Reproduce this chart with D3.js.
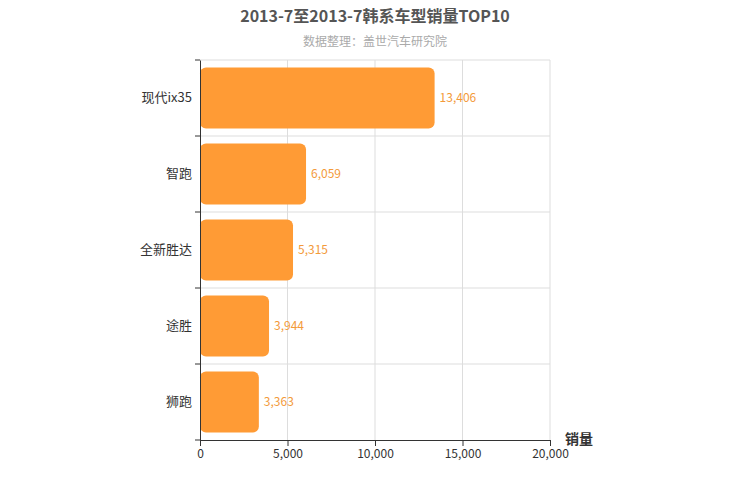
<!DOCTYPE html><html><head><meta charset="utf-8"><script src="https://cdn.jsdelivr.net/npm/d3@7"></script>
<style>body{margin:0;background:#fff}text{font-family:"Noto Sans CJK SC","Liberation Sans",sans-serif}</style></head><body>
<svg id="c" width="750" height="500"></svg>
<script>
const categories=["现代ix35","智跑","全新胜达","途胜","狮跑"];
const values=[13406,6059,5315,3944,3363];
const xTicks=[0,5000,10000,15000,20000];
const svg=d3.select("#c");
const L=200,R=550,T=60,B=440;
const x=d3.scaleLinear().domain([0,20000]).range([L,R]);
const y=d3.scaleBand().domain(categories).range([T,B]);
// grid
svg.append("g").selectAll("line").data(xTicks.slice(1)).join("line")
 .attr("x1",d=>x(d)).attr("x2",d=>x(d)).attr("y1",T).attr("y2",B).attr("stroke","#ddd");
const bounds=d3.range(categories.length+1).map(i=>T+i*y.step());
svg.append("g").selectAll("line").data(bounds.slice(0,-1)).join("line")
 .attr("x1",L).attr("x2",R).attr("y1",d=>d).attr("y2",d=>d).attr("stroke","#ddd");
// bars
svg.append("g").selectAll("rect").data(values).join("rect")
 .attr("x",x(0)).attr("y",(d,i)=>y(categories[i])+y.step()*0.1).attr("height",y.step()*0.8)
 .attr("width",d=>x(d)-x(0)).attr("rx",6).attr("fill","#ff9b35");
svg.append("g").selectAll("text").data(values).join("text")
 .attr("x",d=>x(d)+5).attr("y",(d,i)=>y(categories[i])+y.step()/2).attr("dy","0.35em")
 .attr("fill","#f39a3a").attr("font-size",12).text(d=>d3.format(",")(d));
// axes
const xa=svg.append("g").attr("transform",`translate(0,${B})`).call(d3.axisBottom(x).tickValues(xTicks).tickFormat(d3.format(",")).tickSizeOuter(0));
const ya=svg.append("g").attr("transform",`translate(${L},0)`).call(d3.axisLeft(y).tickSize(0).tickPadding(8));
[xa,ya].forEach(a=>{a.select(".domain").attr("stroke","#333");a.selectAll("text").attr("fill","#333").attr("font-size",12).style("font-family",'"Noto Sans CJK SC",sans-serif');});
ya.selectAll("text").attr("font-size",13);
xa.selectAll("line").attr("stroke","#333");
svg.append("g").selectAll("line").data(bounds).join("line").attr("x1",L-5).attr("x2",L).attr("y1",d=>d).attr("y2",d=>d).attr("stroke","#333");
svg.append("text").attr("x",565).attr("y",444).attr("font-size",14).attr("font-weight","bold").attr("fill","#333").text("销量");
svg.append("text").attr("x",375).attr("y",22).attr("text-anchor","middle").attr("font-size",16).attr("font-weight","bold").attr("fill","#555").text("2013-7至2013-7韩系车型销量TOP10");
svg.append("text").attr("x",375).attr("y",46).attr("text-anchor","middle").attr("font-size",12).attr("fill","#aaa").text("数据整理：盖世汽车研究院");
</script></body></html>
